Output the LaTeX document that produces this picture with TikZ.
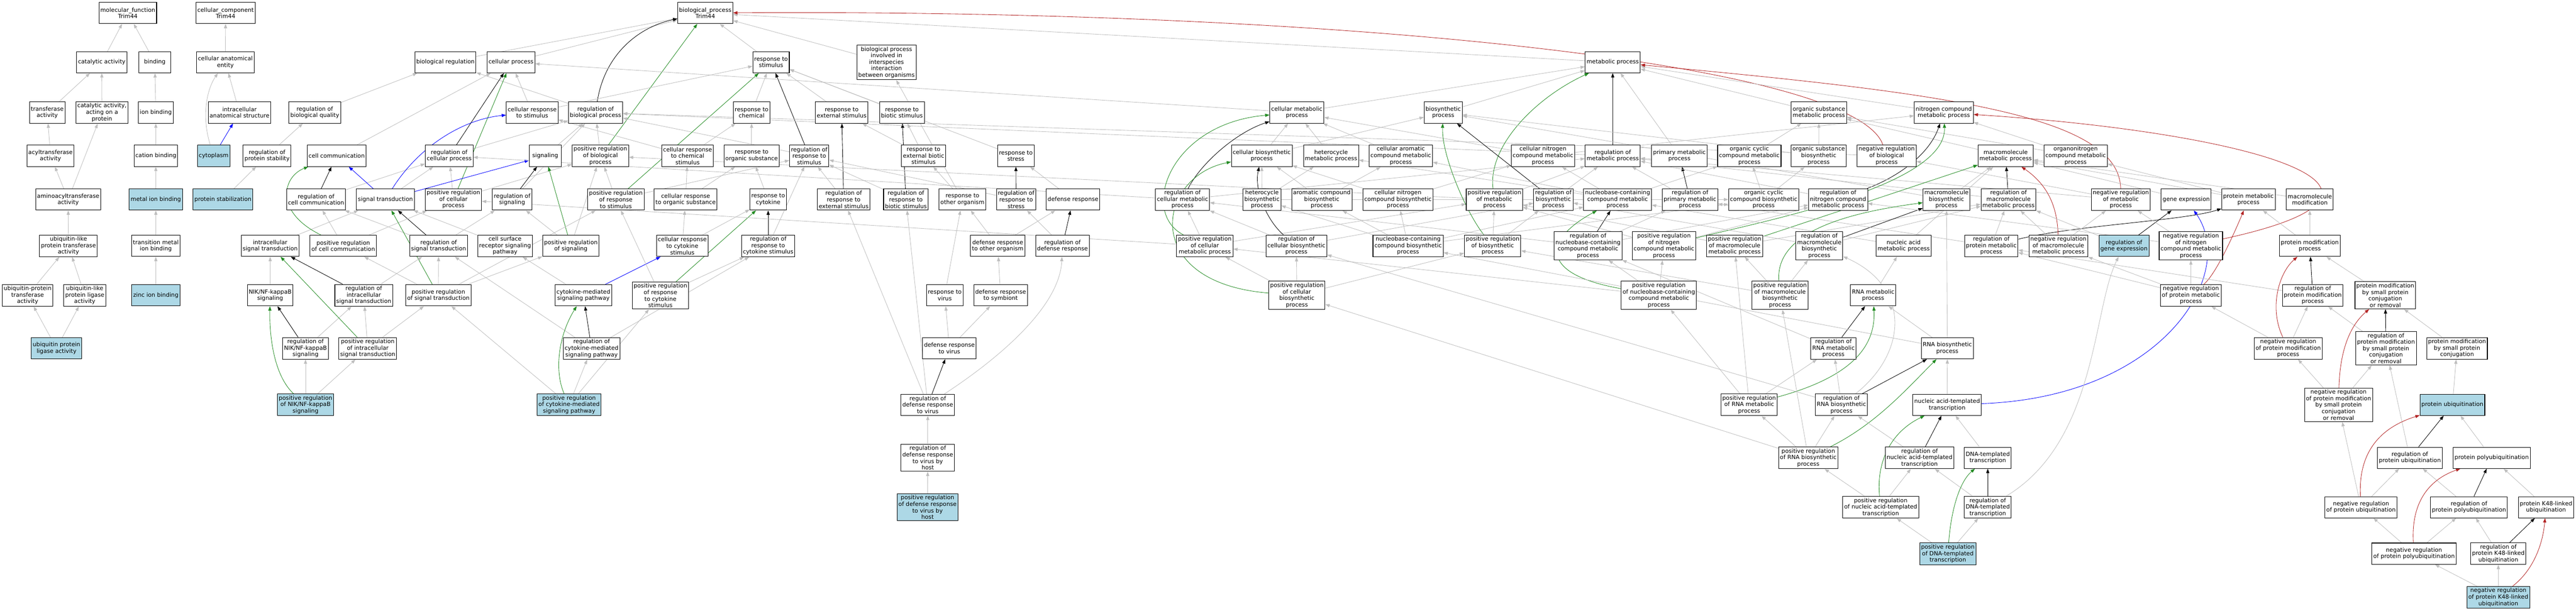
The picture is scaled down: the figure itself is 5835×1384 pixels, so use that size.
\documentclass[tikz,border=0pt]{standalone}
\usepackage{fontspec}
\setmainfont{DejaVu Sans}
\usepackage{tikz}
\usetikzlibrary{arrows.meta}
\usepackage{xcolor}
\definecolor{gohit}{RGB}{173,216,230}
\definecolor{edgegrey}{RGB}{190,190,190}
\definecolor{posgreen}{RGB}{34,139,34}
\definecolor{negred}{RGB}{178,34,34}
\definecolor{partblue}{RGB}{0,0,255}
\pgfdeclarelayer{edges}
\pgfsetlayers{edges,main}
\tikzstyle{term} = [rectangle, draw=black, line width=0.6pt, fill=white, align=center, minimum width=36pt, minimum height=24pt, inner xsep=1.6pt, inner ysep=1.8pt, font=\fontsize{6.5}{7.35}\selectfont]
\tikzstyle{hit} = [term, fill=gohit]
\tikzstyle{isa} = [line width=0.5pt, draw=edgegrey, -{Triangle[length=5pt,width=3.6pt]}]
\tikzstyle{regulates} = [isa, draw=black]
\tikzstyle{posreg} = [isa, draw=posgreen]
\tikzstyle{negreg} = [isa, draw=negred]
\tikzstyle{partof} = [isa, draw=partblue]

\begin{document}
\begin{tikzpicture}[x=0.5pt,y=-0.5pt]
\useasboundingbox (0,0) rectangle (5835,1384);

\node[term] (mf) at (289.5,29.5) {molecular\_function\\Trim44};
\node[term] (cc) at (511,29.5) {cellular\_component\\Trim44};
\node[term] (bp) at (1597.5,29.5) {biological\_process\\Trim44};

\node[term] (catact) at (230.5,141) {catalytic activity};
\node[term] (binding) at (350.6,141) {binding};
\node[term] (cae) at (510.5,141) {cellular anatomical\\entity};
\node[term] (bioreg) at (1009,141) {biological regulation};
\node[term] (cellproc) at (1157.5,141) {cellular process};
\node[term] (respstim) at (1746.5,141) {response to\\stimulus};
\node[term] (interspecies) at (2008,141.5) {biological process\\involved in\\interspecies\\interaction\\between organisms};
\node[term] (metproc) at (3653,141) {metabolic process};

\node[term] (transf) at (107,255) {transferase\\activity};
\node[term] (catprot) at (231,255) {catalytic activity,\\acting on a\\protein};
\node[term] (ionb) at (353,255) {ion binding};
\node[term] (ias) at (542.5,255) {intracellular\\anatomical structure};
\node[term] (regbq) at (713,255) {regulation of\\biological quality};
\node[term] (cellrespstim) at (1205.5,255) {cellular response\\to stimulus};
\node[term] (regbp) at (1349,255) {regulation of\\biological process};
\node[term] (respchem) at (1702.5,255) {response to\\chemical};
\node[term] (respext) at (1906.5,255) {response to\\external stimulus};
\node[term] (respbiotic) at (2043,255) {response to\\biotic stimulus};
\node[term] (cellmet) at (2937.5,255) {cellular metabolic\\process};
\node[term] (biosyn) at (3269,255) {biosynthetic\\process};
\node[term] (orgsubmet) at (4120,255) {organic substance\\metabolic process};
\node[term] (ncmp) at (4403,255) {nitrogen compound\\metabolic process};

\node[term] (acyl) at (114.4,353) {acyltransferase\\activity};
\node[term] (cation) at (353,353) {cation binding};
\node[hit] (cyto) at (484,353) {cytoplasm};
\node[term] (regps) at (605,353) {regulation of\\protein stability};
\node[term] (cellcomm) at (762.5,353) {cell communication};
\node[term] (regcp) at (1017.5,353) {regulation of\\cellular process};
\node[term] (signaling) at (1235,353) {signaling};
\node[term] (posregbp) at (1360,353) {positive regulation\\of biological\\process};
\node[term] (cellrespchem) at (1557.5,353) {cellular response\\to chemical\\stimulus};
\node[term] (resporg) at (1702.5,353) {response to\\organic substance};
\node[term] (regrs) at (1833,353) {regulation of\\response to\\stimulus};
\node[term] (respextbiotic) at (2092,353) {response to\\external biotic\\stimulus};
\node[term] (respstress) at (2301,353) {response to\\stress};
\node[term] (cellbiosyn) at (2858,353) {cellular biosynthetic\\process};
\node[term] (heteromet) at (3015,353) {heterocycle\\metabolic process};
\node[term] (cellarommet) at (3173,353) {cellular aromatic\\compound metabolic\\process};
\node[term] (cellncmp) at (3495,353) {cellular nitrogen\\compound metabolic\\process};
\node[term] (regmet) at (3653,353) {regulation of\\metabolic process};
\node[term] (primet) at (3804,353) {primary metabolic\\process};
\node[term] (orgcyclmet) at (3962.5,353) {organic cyclic\\compound metabolic\\process};
\node[term] (orgsubbiosyn) at (4119.5,353) {organic substance\\biosynthetic\\process};
\node[term] (negregbp) at (4273.5,353) {negative regulation\\of biological\\process};
\node[term] (macromet) at (4543,353) {macromolecule\\metabolic process};
\node[term] (organonitro) at (4701.5,353) {organonitrogen\\compound metabolic\\process};

\node[term] (amino) at (154.4,452) {aminoacyltransferase\\activity};
\node[hit] (metal) at (353,452) {metal ion binding};
\node[hit] (protstab) at (505,452) {protein stabilization};
\node[term] (regcc) at (716,452) {regulation of\\cell communication};
\node[term] (sigtrans) at (873,452) {signal transduction};
\node[term] (posregcp) at (1027,452) {positive regulation\\of cellular\\process};
\node[term] (regsig) at (1160,452) {regulation of\\signaling};
\node[term] (posregrs) at (1395,452) {positive regulation\\of response\\to stimulus};
\node[term] (cellresporg) at (1553,452) {cellular response\\to organic substance};
\node[term] (respcyt) at (1740,452) {response to\\cytokine};
\node[term] (regrext) at (1911,452) {regulation of\\response to\\external stimulus};
\node[term] (regrbiotic) at (2052,452) {regulation of\\response to\\biotic stimulus};
\node[term] (respother) at (2180,452) {response to\\other organism};
\node[term] (regrstress) at (2301.6,452) {regulation of\\response to\\stress};
\node[term] (defresp) at (2430.5,452) {defense response};
\node[term] (regcellmet) at (2678.5,452) {regulation of\\cellular metabolic\\process};
\node[term] (heterobiosyn) at (2858.5,452) {heterocycle\\biosynthetic\\process};
\node[term] (arombiosyn) at (2994,452) {aromatic compound\\biosynthetic\\process};
\node[term] (cellncbiosyn) at (3166.5,452) {cellular nitrogen\\compound biosynthetic\\process};
\node[term] (posregmet) at (3385,452) {positive regulation\\of metabolic\\process};
\node[term] (regbiosyn) at (3518.5,452) {regulation of\\biosynthetic\\process};
\node[term] (nucmet) at (3664,452) {nucleobase-containing\\compound metabolic\\process};
\node[term] (regprimet) at (3828,452) {regulation of\\primary metabolic\\process};
\node[term] (orgcyclbiosyn) at (3995,452) {organic cyclic\\compound biosynthetic\\process};
\node[term] (regncmp) at (4163.5,452) {regulation of\\nitrogen compound\\metabolic process};
\node[term] (macrobiosyn) at (4409,452) {macromolecule\\biosynthetic\\process};
\node[term] (regmacromet) at (4549.5,452) {regulation of\\macromolecule\\metabolic process};
\node[term] (negregmet) at (4804,452) {negative regulation\\of metabolic\\process};
\node[term] (geneexp) at (4952,452) {gene expression};
\node[term] (protmet) at (5093,452) {protein metabolic\\process};
\node[term] (macromod) at (5232,452) {macromolecule\\modification};

\node[term] (ubltrans) at (155,557) {ubiquitin-like\\protein transferase\\activity};
\node[term] (transmetal) at (353,557) {transition metal\\ion binding};
\node[term] (intrasig) at (612,557) {intracellular\\signal transduction};
\node[term] (posregcc) at (777.5,557) {positive regulation\\of cell communication};
\node[term] (regst) at (993.5,557) {regulation of\\signal transduction};
\node[term] (cellsurf) at (1144,557) {cell surface\\receptor signaling\\pathway};
\node[term] (posregsig) at (1293,557) {positive regulation\\of signaling};
\node[term] (cellrespcyt) at (1545.5,557) {cellular response\\to cytokine\\stimulus};
\node[term] (regrcyt) at (1740,557) {regulation of\\response to\\cytokine stimulus};
\node[term] (defother) at (2260,557) {defense response\\to other organism};
\node[term] (regdef) at (2406.6,557) {regulation of\\defense response};
\node[term] (posregcellmet) at (2729,557) {positive regulation\\of cellular\\metabolic process};
\node[term] (regcellbiosyn) at (2936.5,557) {regulation of\\cellular biosynthetic\\process};
\node[term] (nucbiosyn) at (3189.5,557) {nucleobase-containing\\compound biosynthetic\\process};
\node[term] (posregbiosyn) at (3381,557) {positive regulation\\of biosynthetic\\process};
\node[term] (regnucmet) at (3597,557) {regulation of\\nucleobase-containing\\compound metabolic\\process};
\node[term] (posregncmp) at (3769,557) {positive regulation\\of nitrogen\\compound metabolic\\process};
\node[term] (posregmacromet) at (3929,557) {positive regulation\\of macromolecule\\metabolic process};
\node[term] (regmacrobiosyn) at (4121,557) {regulation of\\macromolecule\\biosynthetic\\process};
\node[term] (nucacidmet) at (4312,557) {nucleic acid\\metabolic process};
\node[term] (regprotmet) at (4510.5,557) {regulation of\\protein metabolic\\process};
\node[term] (negregmacromet) at (4662.5,557) {negative regulation\\of macromolecule\\metabolic process};
\node[hit] (reggeneexp) at (4811,557) {regulation of\\gene expression};
\node[term] (negregncmp) at (4962.6,557) {negative regulation\\of nitrogen\\compound metabolic\\process};
\node[term] (protmod) at (5232,557) {protein modification\\process};

\node[term] (ubprottrans) at (62.5,669) {ubiquitin-protein\\transferase\\activity};
\node[term] (ubllig) at (192,669) {ubiquitin-like\\protein ligase\\activity};
\node[hit] (zinc) at (353,669) {zinc ion binding};
\node[term] (nik) at (612,669) {NIK/NF-kappaB\\signaling};
\node[term] (regintra) at (824,669) {regulation of\\intracellular\\signal transduction};
\node[term] (posregst) at (993,669) {positive regulation\\of signal transduction};
\node[term] (cytmed) at (1321.5,669) {cytokine-mediated\\signaling pathway};
\node[term] (posregrcyt) at (1496,669.5) {positive regulation\\of response\\to cytokine\\stimulus};
\node[term] (respvirus) at (2140,669) {response to\\virus};
\node[term] (defsymb) at (2266.5,669) {defense response\\to symbiont};
\node[term] (posregcellbiosyn) at (2937.5,669) {positive regulation\\of cellular\\biosynthetic\\process};
\node[term] (posregnucmet) at (3757.5,669) {positive regulation\\of nucleobase-containing\\compound metabolic\\process};
\node[term] (posregmacrobiosyn) at (4032,669) {positive regulation\\of macromolecule\\biosynthetic\\process};
\node[term] (rnamet) at (4243,669) {RNA metabolic\\process};
\node[term] (negregprotmet) at (4962.6,669) {negative regulation\\of protein metabolic\\process};
\node[term] (regprotmod) at (5238.6,669) {regulation of\\protein modification\\process};
\node[term] (pmsmall) at (5403,669) {protein modification\\by small protein\\conjugation\\or removal};

\node[hit] (ubprotlig) at (128,789) {ubiquitin protein\\ligase activity};
\node[term] (regnik) at (692,789) {regulation of\\NIK/NF-kappaB\\signaling};
\node[term] (posregintra) at (833,789) {positive regulation\\of intracellular\\signal transduction};
\node[term] (regcytmed) at (1340,789.5) {regulation of\\cytokine-mediated\\signaling pathway};
\node[term] (defvirus) at (2150.5,789) {defense response\\to virus};
\node[term] (regrnamet) at (4153,789) {regulation of\\RNA metabolic\\process};
\node[term] (rnabiosyn) at (4411,789) {RNA biosynthetic\\process};
\node[term] (negregprotmod) at (5183,789) {negative regulation\\of protein modification\\process};
\node[term] (regpmsmall) at (5404.5,789) {regulation of\\protein modification\\by small protein\\conjugation\\or removal};
\node[term] (pmsconj) at (5565.5,789) {protein modification\\by small protein\\conjugation};

\node[hit] (posregnik) at (692,917) {positive regulation\\of NIK/NF-kappaB\\signaling};
\node[hit] (posregcytmed) at (1289,917) {positive regulation\\of cytokine-mediated\\signaling pathway};
\node[term] (regdefvirus) at (2101.5,917) {regulation of\\defense response\\to virus};
\node[term] (posregrnamet) at (3962,917) {positive regulation\\of RNA metabolic\\process};
\node[term] (regrnabiosyn) at (4171,917) {regulation of\\RNA biosynthetic\\process};
\node[term] (nuctrans) at (4410.5,917) {nucleic acid-templated\\transcription};
\node[term] (negregpmsmall) at (5297,917) {negative regulation\\of protein modification\\by small protein\\conjugation\\or removal};
\node[hit] (protubi) at (5555,917) {protein ubiquitination};

\node[term] (regdefvirushost) at (2101.5,1037) {regulation of\\defense response\\to virus by\\host};
\node[term] (posregrnabiosyn) at (4096,1037) {positive regulation\\of RNA biosynthetic\\process};
\node[term] (regnuctrans) at (4348,1037) {regulation of\\nucleic acid-templated\\transcription};
\node[term] (dnatrans) at (4502.5,1037) {DNA-templated\\transcription};
\node[term] (regprotubi) at (5458.5,1037) {regulation of\\protein ubiquitination};
\node[term] (protpolyubi) at (5644,1037) {protein polyubiquitination};

\node[hit] (posregdefvirushost) at (2101,1149) {positive regulation\\of defense response\\to virus by\\host};
\node[term] (posregnuctrans) at (4260,1149) {positive regulation\\of nucleic acid-templated\\transcription};
\node[term] (regdnatrans) at (4502.5,1149) {regulation of\\DNA-templated\\transcription};
\node[term] (negregprotubi) at (5348,1149) {negative regulation\\of protein ubiquitination};
\node[term] (regprotpolyubi) at (5592.5,1149) {regulation of\\protein polyubiquitination};
\node[term] (k48) at (5767,1149) {protein K48-linked\\ubiquitination};

\node[hit] (posregdnatrans) at (4412,1254.5) {positive regulation\\of DNA-templated\\transcription};
\node[term] (negregprotpolyubi) at (5468,1254) {negative regulation\\of protein polyubiquitination};
\node[term] (regk48) at (5659,1254) {regulation of\\protein K48-linked\\ubiquitination};

\node[hit] (negregk48) at (5659,1353) {negative regulation\\of protein K48-linked\\ubiquitination};

\begin{pgfonlayer}{edges}
\draw[isa] (catact) -- (mf);
\draw[isa] (binding) -- (mf);
\draw[isa] (transf) -- (catact);
\draw[isa] (catprot) -- (catact);
\draw[isa] (ionb) -- (binding);
\draw[isa] (acyl) -- (transf);
\draw[isa] (amino) -- (acyl);
\draw[isa] (amino) -- (catprot);
\draw[isa] (cation) -- (ionb);
\draw[isa] (metal) -- (cation);
\draw[isa] (ubltrans) -- (amino);
\draw[isa] (transmetal) -- (metal);
\draw[isa] (ubprottrans) -- (ubltrans);
\draw[isa] (ubllig) -- (ubltrans);
\draw[isa] (zinc) -- (transmetal);
\draw[isa] (ubprotlig) -- (ubprottrans);
\draw[isa] (ubprotlig) -- (ubllig);
\draw[isa] (cae) -- (cc);
\draw[isa] (ias) -- (cae);
\draw[isa] (cyto) .. controls (455,260) and (470,200) .. (cae);
\draw[partof] (cyto) -- (ias);

\draw[isa] (bioreg) -- (bp);
\draw[isa] (cellproc) -- (bp);
\draw[isa] (respstim) -- (bp);
\draw[isa] (interspecies) -- (bp);
\draw[isa] (metproc) -- (bp);
\draw[regulates] (regbp) .. controls (1370,120) and (1450,60) .. (bp);
\draw[posreg] (posregbp) -- (bp);
\draw[negreg] (negregbp) .. controls (4200,140) and (3000,20) .. (bp);
\draw[isa] (regbq) -- (bioreg);
\draw[isa] (regps) -- (regbq);
\draw[isa] (protstab) -- (regps);
\draw[isa] (regbp) -- (bioreg);
\draw[isa] (cellcomm) -- (cellproc);
\draw[regulates] (regcp) -- (cellproc);
\draw[isa] (regcp) -- (regbp);
\draw[isa] (cellrespstim) -- (cellproc);
\draw[isa] (cellrespstim) -- (respstim);
\draw[isa] (signaling) -- (regbp);
\draw[isa] (posregbp) -- (regbp);
\draw[isa] (cellrespchem) -- (cellrespstim);
\draw[isa] (cellrespchem) -- (respchem);
\draw[isa] (respchem) -- (respstim);
\draw[isa] (resporg) -- (respchem);
\draw[regulates] (regrs) -- (respstim);
\draw[isa] (regrs) -- (regbp);
\draw[isa] (respext) -- (respstim);
\draw[isa] (respbiotic) -- (respstim);
\draw[isa] (respstress) -- (respstim);
\draw[posreg] (posregcp) -- (cellproc);
\draw[isa] (posregcp) -- (regcp);
\draw[isa] (posregcp) -- (posregbp);
\draw[regulates] (regsig) -- (signaling);
\draw[isa] (regsig) -- (regbp);
\draw[regulates] (regcc) -- (cellcomm);
\draw[isa] (regcc) -- (regcp);
\draw[partof] (sigtrans) -- (cellcomm);
\draw[partof] (sigtrans) -- (signaling);
\draw[partof] (sigtrans) .. controls (950,330) and (1050,270) .. (cellrespstim);
\draw[isa] (sigtrans) -- (regcp);
\draw[posreg] (posregrs) -- (respstim);
\draw[isa] (posregrs) -- (posregbp);
\draw[isa] (posregrs) -- (regrs);
\draw[isa] (cellresporg) -- (cellrespchem);
\draw[isa] (cellresporg) -- (resporg);
\draw[isa] (respcyt) -- (resporg);
\draw[regulates] (regrext) -- (respext);
\draw[isa] (regrext) -- (regrs);
\draw[regulates] (regst) -- (sigtrans);
\draw[isa] (regst) -- (regsig);
\draw[isa] (regst) -- (regcc);
\draw[isa] (cellsurf) -- (sigtrans);
\draw[posreg] (posregsig) -- (signaling);
\draw[isa] (posregsig) -- (regsig);
\draw[isa] (posregsig) -- (posregbp);
\draw[isa] (cellrespcyt) -- (cellresporg);
\draw[isa] (cellrespcyt) -- (respcyt);
\draw[regulates] (regrcyt) -- (respcyt);
\draw[isa] (regrcyt) -- (regrs);
\draw[isa] (intrasig) -- (sigtrans);
\draw[posreg] (posregcc) .. controls (620,480) and (640,400) .. (cellcomm);
\draw[isa] (posregcc) -- (regcc);
\draw[isa] (posregcc) -- (posregcp);
\draw[posreg] (posregst) -- (sigtrans);
\draw[isa] (posregst) -- (regst);
\draw[isa] (posregst) -- (posregsig);
\draw[isa] (posregst) -- (posregcc);
\draw[isa] (posregst) -- (posregrs);
\draw[isa] (cytmed) -- (cellsurf);
\draw[partof] (cytmed) -- (cellrespcyt);
\draw[posreg] (posregrcyt) -- (respcyt);
\draw[isa] (posregrcyt) -- (regrcyt);
\draw[isa] (posregrcyt) -- (posregrs);
\draw[isa] (nik) -- (intrasig);
\draw[regulates] (regintra) -- (intrasig);
\draw[isa] (regintra) -- (regst);
\draw[regulates] (regnik) -- (nik);
\draw[isa] (regnik) -- (regintra);
\draw[posreg] (posregintra) -- (intrasig);
\draw[isa] (posregintra) -- (regintra);
\draw[isa] (posregintra) -- (posregst);
\draw[posreg] (posregnik) .. controls (620,850) and (610,760) .. (nik);
\draw[isa] (posregnik) -- (regnik);
\draw[isa] (posregnik) -- (posregintra);
\draw[regulates] (regcytmed) -- (cytmed);
\draw[isa] (regcytmed) -- (regrcyt);
\draw[isa] (regcytmed) -- (regst);
\draw[posreg] (posregcytmed) .. controls (1255,840) and (1265,760) .. (cytmed);
\draw[isa] (posregcytmed) -- (regcytmed);
\draw[isa] (posregcytmed) -- (posregrcyt);
\draw[isa] (posregcytmed) -- (posregst);

\draw[isa] (respextbiotic) -- (respext);
\draw[isa] (respextbiotic) -- (respbiotic);
\draw[regulates] (regrbiotic) -- (respbiotic);
\draw[isa] (regrbiotic) -- (regrs);
\draw[isa] (respother) -- (respextbiotic);
\draw[isa] (respother) -- (interspecies);
\draw[regulates] (regrstress) -- (respstress);
\draw[isa] (regrstress) -- (regrs);
\draw[isa] (defresp) -- (respstress);
\draw[isa] (defother) -- (respother);
\draw[isa] (defother) -- (defresp);
\draw[regulates] (regdef) -- (defresp);
\draw[isa] (regdef) -- (regrstress);
\draw[isa] (respvirus) -- (respother);
\draw[isa] (defsymb) -- (defother);
\draw[isa] (defvirus) -- (respvirus);
\draw[isa] (defvirus) -- (defsymb);
\draw[regulates] (regdefvirus) -- (defvirus);
\draw[isa] (regdefvirus) .. controls (2250,820) and (2400,700) .. (regdef);
\draw[isa] (regdefvirus) -- (regrbiotic);
\draw[isa] (regdefvirus) -- (regrext);
\draw[isa] (regdefvirushost) -- (regdefvirus);
\draw[isa] (posregdefvirushost) -- (regdefvirushost);

\draw[isa] (cellmet) -- (metproc);
\draw[isa] (cellmet) -- (cellproc);
\draw[isa] (biosyn) -- (metproc);
\draw[isa] (orgsubmet) -- (metproc);
\draw[isa] (ncmp) -- (metproc);
\draw[isa] (primet) -- (metproc);
\draw[regulates] (regmet) -- (metproc);
\draw[isa] (regmet) -- (regbp);
\draw[isa] (negregbp) -- (regbp);
\draw[isa] (cellbiosyn) -- (cellmet);
\draw[isa] (cellbiosyn) -- (biosyn);
\draw[isa] (heteromet) -- (cellmet);
\draw[isa] (cellarommet) -- (cellmet);
\draw[isa] (cellncmp) -- (cellmet);
\draw[isa] (cellncmp) -- (ncmp);
\draw[isa] (orgcyclmet) -- (orgsubmet);
\draw[isa] (orgsubbiosyn) -- (orgsubmet);
\draw[isa] (orgsubbiosyn) -- (biosyn);
\draw[isa] (macromet) -- (orgsubmet);
\draw[isa] (organonitro) -- (orgsubmet);
\draw[isa] (organonitro) -- (ncmp);
\draw[regulates] (regcellmet) .. controls (2720,370) and (2800,300) .. (cellmet);
\draw[isa] (regcellmet) -- (regmet);
\draw[isa] (regcellmet) -- (regcp);
\draw[isa] (heterobiosyn) -- (cellbiosyn);
\draw[isa] (heterobiosyn) -- (heteromet);
\draw[isa] (heterobiosyn) -- (orgcyclbiosyn);
\draw[isa] (arombiosyn) -- (cellarommet);
\draw[isa] (arombiosyn) -- (cellbiosyn);
\draw[isa] (cellncbiosyn) -- (cellncmp);
\draw[isa] (cellncbiosyn) -- (cellbiosyn);
\draw[posreg] (posregmet) .. controls (3370,330) and (3480,220) .. (metproc);
\draw[isa] (posregmet) -- (regmet);
\draw[isa] (posregmet) -- (posregbp);
\draw[regulates] (regbiosyn) -- (biosyn);
\draw[isa] (regbiosyn) -- (regmet);
\draw[isa] (nucmet) -- (heteromet);
\draw[isa] (nucmet) -- (cellarommet);
\draw[isa] (nucmet) -- (cellncmp);
\draw[isa] (nucmet) -- (orgcyclmet);
\draw[regulates] (regprimet) -- (primet);
\draw[isa] (regprimet) -- (regmet);
\draw[isa] (orgcyclbiosyn) -- (orgcyclmet);
\draw[isa] (orgcyclbiosyn) -- (orgsubbiosyn);
\draw[regulates] (regncmp) .. controls (4300,400) and (4370,350) .. (ncmp);
\draw[isa] (regncmp) -- (regmet);
\draw[isa] (macrobiosyn) -- (macromet);
\draw[isa] (macrobiosyn) -- (biosyn);
\draw[regulates] (regmacromet) -- (macromet);
\draw[isa] (regmacromet) -- (regmet);
\draw[negreg] (negregmet) .. controls (4800,260) and (4400,210) .. (metproc);
\draw[isa] (negregmet) -- (regmet);
\draw[isa] (negregmet) -- (negregbp);
\draw[isa] (geneexp) -- (macromet);
\draw[isa] (protmet) -- (macromet);
\draw[isa] (protmet) -- (organonitro);
\draw[isa] (macromod) -- (macromet);

\draw[posreg] (posregcellmet) .. controls (2580,480) and (2650,280) .. (cellmet);
\draw[isa] (posregcellmet) -- (regcellmet);
\draw[isa] (posregcellmet) -- (posregmet);
\draw[isa] (posregcellmet) -- (posregcp);
\draw[regulates] (regcellbiosyn) .. controls (2870,500) and (2840,430) .. (cellbiosyn);
\draw[isa] (regcellbiosyn) -- (regcellmet);
\draw[isa] (regcellbiosyn) -- (regbiosyn);
\draw[isa] (nucbiosyn) -- (cellncbiosyn);
\draw[isa] (nucbiosyn) -- (nucmet);
\draw[isa] (nucbiosyn) -- (heterobiosyn);
\draw[isa] (nucbiosyn) -- (arombiosyn);
\draw[isa] (nucbiosyn) -- (orgcyclbiosyn);
\draw[posreg] (posregbiosyn) .. controls (3320,480) and (3265,350) .. (biosyn);
\draw[isa] (posregbiosyn) -- (regbiosyn);
\draw[isa] (posregbiosyn) -- (posregmet);
\draw[regulates] (regnucmet) -- (nucmet);
\draw[isa] (regnucmet) -- (regcellmet);
\draw[isa] (regnucmet) -- (regprimet);
\draw[isa] (regnucmet) -- (regncmp);
\draw[posreg] (posregncmp) .. controls (4000,500) and (4410,420) .. (ncmp);
\draw[isa] (posregncmp) -- (regncmp);
\draw[isa] (posregncmp) -- (posregmet);
\draw[posreg] (posregmacromet) -- (macromet);
\draw[isa] (posregmacromet) -- (regmacromet);
\draw[isa] (posregmacromet) -- (posregmet);
\draw[regulates] (regmacrobiosyn) -- (macrobiosyn);
\draw[isa] (regmacrobiosyn) -- (regmacromet);
\draw[isa] (regmacrobiosyn) -- (regbiosyn);
\draw[isa] (nucacidmet) -- (nucmet);
\draw[isa] (nucacidmet) -- (macromet);
\draw[regulates] (regprotmet) .. controls (4700,510) and (4950,500) .. (protmet);
\draw[isa] (regprotmet) -- (regmacromet);
\draw[isa] (regprotmet) -- (regprimet);
\draw[negreg] (negregmacromet) .. controls (4660,470) and (4640,420) .. (macromet);
\draw[isa] (negregmacromet) -- (regmacromet);
\draw[isa] (negregmacromet) -- (negregmet);
\draw[regulates] (reggeneexp) -- (geneexp);
\draw[isa] (reggeneexp) -- (regmacromet);
\draw[negreg] (negregncmp) .. controls (5550,430) and (5100,300) .. (ncmp);
\draw[isa] (negregncmp) -- (regncmp);
\draw[isa] (negregncmp) -- (negregmet);
\draw[isa] (protmod) -- (protmet);
\draw[isa] (protmod) -- (macromod);

\draw[posreg] (posregcellbiosyn) .. controls (2580,640) and (2620,400) .. (cellbiosyn);
\draw[isa] (posregcellbiosyn) -- (regcellbiosyn);
\draw[isa] (posregcellbiosyn) -- (posregcellmet);
\draw[isa] (posregcellbiosyn) -- (posregbiosyn);
\draw[posreg] (posregnucmet) .. controls (3480,620) and (3500,540) .. (nucmet);
\draw[isa] (posregnucmet) -- (regnucmet);
\draw[isa] (posregnucmet) -- (posregncmp);
\draw[isa] (posregnucmet) -- (posregcellmet);
\draw[posreg] (posregmacrobiosyn) .. controls (4020,520) and (4200,480) .. (macrobiosyn);
\draw[isa] (posregmacrobiosyn) -- (regmacrobiosyn);
\draw[isa] (posregmacrobiosyn) -- (posregmacromet);
\draw[isa] (posregmacrobiosyn) -- (posregbiosyn);
\draw[isa] (rnamet) -- (nucacidmet);
\draw[regulates] (regrnamet) -- (rnamet);
\draw[isa] (regrnamet) -- (regnucmet);
\draw[isa] (rnabiosyn) -- (rnamet);
\draw[isa] (rnabiosyn) -- (nucbiosyn);
\draw[isa] (rnabiosyn) -- (macrobiosyn);
\draw[posreg] (posregrnamet) .. controls (4170,860) and (4250,800) .. (rnamet);
\draw[isa] (posregrnamet) -- (regrnamet);
\draw[isa] (posregrnamet) -- (posregnucmet);
\draw[isa] (posregrnamet) -- (posregmacromet);
\draw[regulates] (regrnabiosyn) -- (rnabiosyn);
\draw[isa] (regrnabiosyn) -- (regrnamet);
\draw[isa] (regrnabiosyn) .. controls (4320,800) and (4330,650) .. (regmacrobiosyn);
\draw[isa] (regrnabiosyn) -- (regcellbiosyn);
\draw[isa] (nuctrans) -- (rnabiosyn);
\draw[partof] (nuctrans) .. controls (4900,900) and (5070,620) .. (geneexp);
\draw[posreg] (posregrnabiosyn) .. controls (4250,960) and (4320,880) .. (rnabiosyn);
\draw[isa] (posregrnabiosyn) -- (regrnabiosyn);
\draw[isa] (posregrnabiosyn) -- (posregrnamet);
\draw[isa] (posregrnabiosyn) -- (posregmacrobiosyn);
\draw[isa] (posregrnabiosyn) -- (posregcellbiosyn);
\draw[regulates] (regnuctrans) -- (nuctrans);
\draw[isa] (regnuctrans) -- (regrnabiosyn);
\draw[isa] (dnatrans) -- (nuctrans);
\draw[posreg] (posregnuctrans) .. controls (4250,1050) and (4280,980) .. (nuctrans);
\draw[isa] (posregnuctrans) -- (posregrnabiosyn);
\draw[isa] (posregnuctrans) -- (regnuctrans);
\draw[regulates] (regdnatrans) -- (dnatrans);
\draw[isa] (regdnatrans) -- (regnuctrans);
\draw[isa] (regdnatrans) .. controls (4750,1000) and (4740,700) .. (reggeneexp);
\draw[posreg] (posregdnatrans) .. controls (4420,1150) and (4440,1090) .. (dnatrans);
\draw[isa] (posregdnatrans) -- (posregnuctrans);
\draw[isa] (posregdnatrans) -- (regdnatrans);

\draw[negreg] (negregprotmet) .. controls (5020,620) and (5060,530) .. (protmet);
\draw[isa] (negregprotmet) -- (negregncmp);
\draw[isa] (negregprotmet) -- (regprotmet);
\draw[isa] (negregprotmet) -- (negregmacromet);
\draw[regulates] (regprotmod) -- (protmod);
\draw[isa] (regprotmod) -- (regprotmet);
\draw[isa] (pmsmall) -- (protmod);
\draw[negreg] (negregprotmod) .. controls (5140,700) and (5160,620) .. (protmod);
\draw[isa] (negregprotmod) -- (negregprotmet);
\draw[isa] (negregprotmod) -- (regprotmod);
\draw[regulates] (regpmsmall) -- (pmsmall);
\draw[isa] (regpmsmall) -- (regprotmod);
\draw[isa] (pmsconj) -- (pmsmall);
\draw[negreg] (negregpmsmall) .. controls (5300,800) and (5320,740) .. (pmsmall);
\draw[isa] (negregpmsmall) -- (negregprotmod);
\draw[isa] (negregpmsmall) -- (regpmsmall);
\draw[isa] (protubi) -- (pmsconj);
\draw[regulates] (regprotubi) -- (protubi);
\draw[isa] (regprotubi) -- (regpmsmall);
\draw[isa] (protpolyubi) -- (protubi);
\draw[negreg] (negregprotubi) .. controls (5340,1000) and (5420,960) .. (protubi);
\draw[isa] (negregprotubi) -- (regprotubi);
\draw[isa] (negregprotubi) -- (negregpmsmall);
\draw[regulates] (regprotpolyubi) -- (protpolyubi);
\draw[isa] (regprotpolyubi) -- (regprotubi);
\draw[isa] (k48) -- (protpolyubi);
\draw[negreg] (negregprotpolyubi) .. controls (5460,1120) and (5520,1080) .. (protpolyubi);
\draw[isa] (negregprotpolyubi) -- (negregprotubi);
\draw[isa] (negregprotpolyubi) -- (regprotpolyubi);
\draw[regulates] (regk48) -- (k48);
\draw[isa] (regk48) -- (regprotpolyubi);
\draw[negreg] (negregk48) .. controls (5740,1290) and (5760,1230) .. (k48);
\draw[isa] (negregk48) -- (regk48);
\draw[isa] (negregk48) -- (negregprotpolyubi);
\end{pgfonlayer}
\end{tikzpicture}
\end{document}
